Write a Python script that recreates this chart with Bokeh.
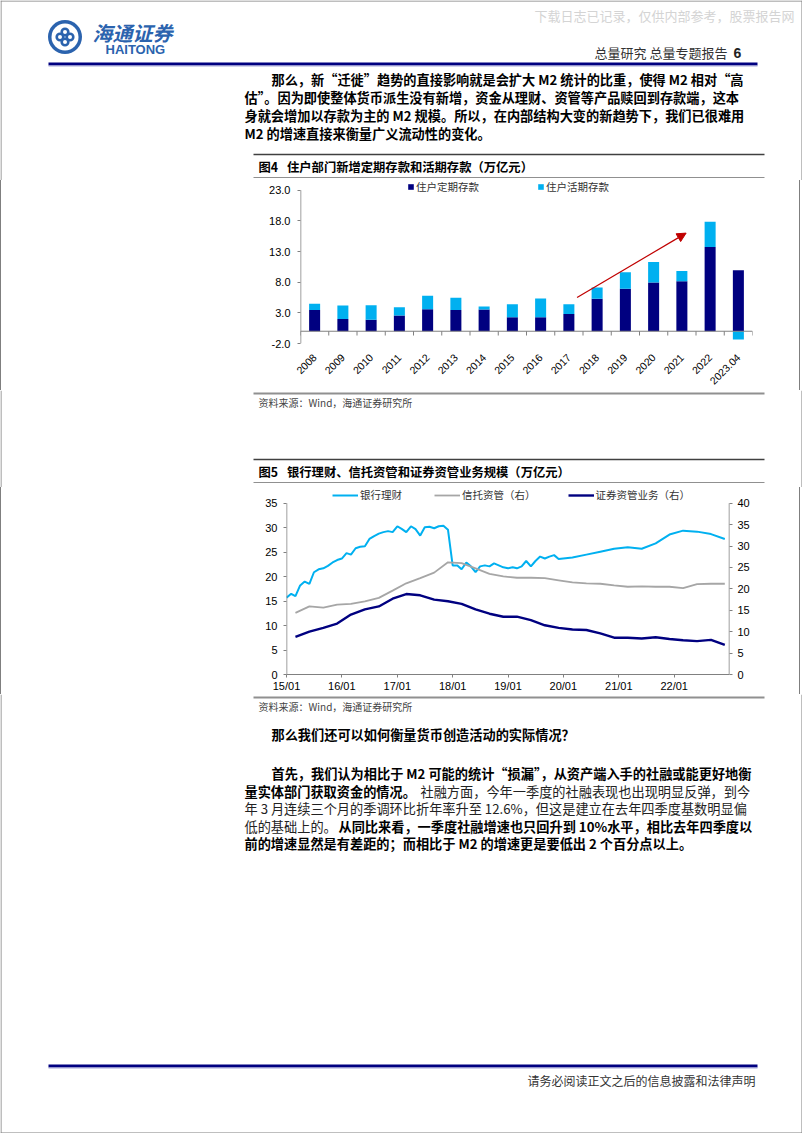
import math
import pandas as pd
from bokeh.plotting import figure
from bokeh.models import (Range1d, FactorRange, ColumnDataSource, LinearAxis, FixedTicker, Legend,
                          NumeralTickFormatter, DatetimeTickFormatter, Arrow, NormalHead, Span)
from bokeh.transform import dodge
from bokeh.core.properties import value
from bokeh.embed import file_html
from bokeh.resources import INLINE

CJK = "Noto Sans CJK SC"
LAT = "Liberation Sans"

# ---------------- Figure 4 data ----------------
years4 = ["2008", "2009", "2010", "2011", "2012", "2013", "2014", "2015",
          "2016", "2017", "2018", "2019", "2020", "2021", "2022", "2023.04"]
time_deposits = [3.45, 2.00, 1.87, 2.56, 3.60, 3.45, 3.55, 2.30,
                 2.30, 2.82, 5.30, 6.93, 7.94, 8.15, 13.73, 9.94]
demand_deposits = [1.05, 2.20, 2.38, 1.34, 2.17, 2.00, 0.48, 2.10,
                   3.05, 1.58, 1.85, 2.67, 3.33, 1.69, 4.12, -1.34]
legend4 = ["住户定期存款", "住户活期存款"]
yticks4 = [-2, 3, 8, 13, 18, 23]
title4 = "图4\u2002 住户部门新增定期存款和活期存款（万亿元）"

# ---------------- Figure 5 data ----------------
bank_dates = (list(pd.date_range("2015-01-01", "2019-12-01", freq="MS")) +
              list(pd.date_range("2020-03-01", "2022-12-01", freq="3MS")))
bank_wm = [15.7, 16.5, 16.0, 18.2, 19.0, 18.5, 20.9, 21.5, 21.7, 22.2, 22.9, 23.4,
           23.7, 24.8, 24.5, 25.8, 26.1, 26.2, 27.7, 28.3, 28.8, 29.1, 29.3, 29.1,
           30.3, 29.7, 29.1, 30.3, 29.7, 28.4, 30.1, 30.2, 29.9, 30.3, 30.4, 29.6,
           22.3, 22.3, 21.5, 22.9, 22.1, 20.9, 22.1, 22.3, 22.1, 22.7, 22.3, 21.9,
           21.7, 21.9, 21.7, 22.1, 23.2, 22.1, 23.2, 24.1, 23.7, 24.1, 24.4, 23.6,
           23.9, 24.5, 25.1, 25.7, 26.0, 25.7, 26.8, 28.6, 29.4, 29.2, 28.7, 27.7]
q_dates = list(pd.date_range("2015-03-01", "2022-12-01", freq="3MS"))
trust_am = [14.4, 15.9, 15.6, 16.3, 16.5, 17.1, 17.9, 19.6,
            21.3, 22.5, 23.8, 26.2, 26.0, 24.8, 23.5, 22.9,
            22.6, 22.6, 22.5, 22.0, 21.5, 21.3, 21.2, 20.8,
            20.5, 20.6, 20.5, 20.5, 20.2, 21.1, 21.2, 21.2]
sec_am = [8.8, 10.0, 10.9, 11.9, 14.0, 15.2, 15.9, 17.7,
          18.8, 18.5, 17.5, 17.1, 16.5, 15.2, 14.2, 13.5,
          13.5, 12.7, 11.5, 10.9, 10.5, 10.4, 9.6, 8.6,
          8.6, 8.4, 8.7, 8.3, 8.0, 7.8, 8.1, 6.9]
legend5 = ["银行理财", "信托资管（右）", "证券资管业务（右）"]
xticks5 = ["2015-01", "2016-01", "2017-01", "2018-01", "2019-01", "2020-01", "2021-01", "2022-01"]
yticks5_left = [0, 5, 10, 15, 20, 25, 30, 35]
yticks5_right = [0, 5, 10, 15, 20, 25, 30, 35, 40]
title5 = "图5\u2002 银行理财、信托资管和证券资管业务规模（万亿元）"
source_txt = "资料来源：Wind，海通证券研究所"

# ---------------- page text ----------------
para1 = ["那么，新“迁徙”趋势的直接影响就是会扩大 M2 统计的比重，使得 M2 相对“高",
         "估”。因为即使整体货币派生没有新增，资金从理财、资管等产品赎回到存款端，这本",
         "身就会增加以存款为主的 M2 规模。所以，在内部结构大变的新趋势下，我们已很难用",
         "M2 的增速直接来衡量广义流动性的变化。"]
question = "那么我们还可以如何衡量货币创造活动的实际情况？"

DARK = "#000080"
LIGHT = "#00B0F0"
GRAY = "#A6A6A6"
LOGO = "#2B63AE"
FRAME = "#7f7f7f"
AXIS = "#808080"
BODY = "13.2px"
SIDES = {"border-left": "1px solid #7f7f7f", "border-right": "1px solid #7f7f7f"}


def band(y0, y1):
    p = figure(width=802, height=y1 - y0, x_range=Range1d(0, 802), y_range=Range1d(y1, y0),
               output_backend="svg", toolbar_location=None, min_border=0,
               x_axis_location=None, y_axis_location=None)
    p.grid.visible = False
    p.outline_line_color = None
    p.segment(x0=[0.5, 801.5], y0=[y0, y0], x1=[0.5, 801.5], y1=[y1, y1], line_color=FRAME, line_width=1)
    return p


def txt(p, x, y, s, size=BODY, color="#000", style="normal", align="left", font=CJK):
    p.text(x=[x], y=[y], text=[s], text_font=value(font), text_font_size=value(size),
           text_color=color, text_font_style=style, text_align=align, text_baseline="middle")


def rule(p, x0, x1, y, color, w):
    p.segment(x0=[x0], y0=[y], x1=[x1], y1=[y], line_color=color, line_width=w)


def legend_style(lg, spacing, gw, gh):
    lg.orientation = "horizontal"
    lg.background_fill_alpha = 0
    lg.border_line_color = None
    lg.padding = 0
    lg.margin = 0
    lg.spacing = spacing
    lg.glyph_width = gw
    lg.glyph_height = gh
    lg.label_height = 12
    lg.label_standoff = 2
    lg.label_text_font = CJK
    lg.label_text_font_size = "10.5px"
    lg.label_text_color = "#333"


# ---------------- Band A (page y 0..180) ----------------
A = band(0, 180)
rule(A, 0, 802, 0.5, FRAME, 1)
txt(A, 534, 15, "下载日志已记录，仅供内部参考，股票报告网", "13px", "#d4d4d4")
A.circle(x=[64.5], y=[36.5], radius=17, fill_color=LOGO, line_color=None)
A.circle(x=[64.5], y=[36.5], radius=13.5, fill_color="white", line_color=None)
A.annulus(x=[59.5, 69.5, 64.5, 64.5], y=[36.5, 36.5, 31.5, 41.5], inner_radius=2.0,
          outer_radius=4.6, fill_color=LOGO, line_color=None)
txt(A, 92, 32, "海通证券", "20px", LOGO, "bold italic")
txt(A, 105, 49, "HAITONG", "13px", LOGO, "bold", font=LAT)
txt(A, 727, 52, "总量研究 总量专题报告", "13px", "#333", align="right")
txt(A, 733, 52, "6", "14px", "#222", "bold", font=LAT)
rule(A, 48, 757, 63.5, "#000080", 3)
rule(A, 48, 757, 65.5, "#a8a8d8", 1)
for i, (x, line) in enumerate(zip([271, 244, 244, 244], para1)):
    txt(A, x, 78.5 + i * 18, line, BODY, "#000", "bold")
rule(A, 253, 764, 154, "#404040", 1.5)
txt(A, 258, 166, title4, "12.3px", "#000", "bold")
rule(A, 253, 764, 177, "#909090", 1)

# ---------------- Figure 4 chart (page y 180..390; frame 180..348) ----------------
p4 = figure(width=800, height=210, x_range=FactorRange(*years4), y_range=Range1d(-2, 24.58),
            output_backend="svg", toolbar_location=None, styles=SIDES,
            min_border_left=299, min_border_right=49, min_border_top=0, min_border_bottom=42)
p4.outline_line_color = None
p4.grid.visible = False
light_bottom = [t if d >= 0 else 0 for t, d in zip(time_deposits, demand_deposits)]
light_top = [b + d for b, d in zip(light_bottom, demand_deposits)]
src4 = ColumnDataSource(dict(x=years4, t=time_deposits, lb=light_bottom, lt=light_top))
r_dark = p4.vbar(x="x", top="t", bottom=0, width=0.39, source=src4, fill_color=DARK, line_color=None)
r_light = p4.vbar(x="x", top="lt", bottom="lb", width=0.39, source=src4, fill_color=LIGHT, line_color=None)
p4.add_layout(Span(location=0, dimension="width", line_color=AXIS, line_width=1))
tick_src = ColumnDataSource(dict(x=years4, y0=[0] * len(years4), y1=[-0.7] * len(years4)))
p4.segment(x0=dodge("x", -0.5, range=p4.x_range), y0="y0", x1=dodge("x", -0.5, range=p4.x_range),
           y1="y1", source=tick_src, line_color=AXIS)
end_src = ColumnDataSource(dict(x=years4[-1:], y0=[0], y1=[-0.7]))
p4.segment(x0=dodge("x", 0.5, range=p4.x_range), y0="y0", x1=dodge("x", 0.5, range=p4.x_range),
           y1="y1", source=end_src, line_color=AXIS)
# y axis line only over the tick span (-2 .. 23)
yline_src = ColumnDataSource(dict(x=years4[:1], y0=[yticks4[0]], y1=[yticks4[-1]]))
p4.segment(x0=dodge("x", -0.5, range=p4.x_range), y0="y0", x1=dodge("x", -0.5, range=p4.x_range),
           y1="y1", source=yline_src, line_color=AXIS, line_width=1.5)
p4.add_layout(Arrow(end=NormalHead(size=9, fill_color="#C00000", line_color="#C00000"),
                    x_start=9.79, y_start=5.5, x_end=13.65, y_end=16.0,
                    line_color="#C00000", line_width=1.2))
p4.yaxis.ticker = FixedTicker(ticks=yticks4)
p4.yaxis.formatter = NumeralTickFormatter(format="0.0")
p4.yaxis.axis_line_color = None
p4.yaxis.major_tick_line_color = AXIS
p4.yaxis.major_tick_out = 3
p4.yaxis.major_tick_in = 0
p4.yaxis.minor_tick_line_color = None
p4.yaxis.major_label_standoff = 7
p4.yaxis.major_label_text_font = LAT
p4.yaxis.major_label_text_font_size = "11px"
p4.yaxis.major_label_text_color = "#000"
p4.xaxis.axis_line_color = None
p4.xaxis.major_tick_line_color = None
p4.xaxis.major_label_orientation = math.pi / 4
p4.xaxis.major_label_standoff = 6
p4.xaxis.major_label_text_font = LAT
p4.xaxis.major_label_text_font_size = "10.5px"
p4.xaxis.major_label_text_color = "#000"
lg4 = Legend(items=[(legend4[0], [r_dark]), (legend4[1], [r_light])], location=(107, 149))
legend_style(lg4, 58, 7, 7)
p4.add_layout(lg4)

# ---------------- Band B (page y 390..487) ----------------
B = band(390, 487)
rule(B, 253, 764, 393, "#909090", 2)
txt(B, 258, 402, source_txt, "10px", "#444")
rule(B, 253, 764, 459, "#404040", 1.5)
txt(B, 258, 471, title5, "12.3px", "#000", "bold")
rule(B, 253, 764, 482, "#909090", 1)

# ---------------- Figure 5 chart (page y 487..694; frame 487..677) ----------------
x0 = pd.Timestamp("2015-01-01")
x1 = pd.Timestamp("2023-01-01")
p5 = figure(width=800, height=207, x_axis_type="datetime", x_range=Range1d(x0, x1),
            y_range=Range1d(0, 38.22), output_backend="svg", toolbar_location=None, styles=SIDES,
            min_border_left=285, min_border_right=72, min_border_top=0, min_border_bottom=17)
p5.extra_y_ranges = {"right": Range1d(0, 43.68)}
p5.outline_line_color = None
p5.grid.visible = False
bank_src = ColumnDataSource(dict(x=bank_dates, y=bank_wm))
q_src = ColumnDataSource(dict(x=q_dates, trust=trust_am, sec=sec_am))
r_bank = p5.line(x="x", y="y", source=bank_src, line_color=LIGHT, line_width=2)
r_trust = p5.line(x="x", y="trust", source=q_src, line_color=GRAY, line_width=1.8, y_range_name="right")
r_sec = p5.line(x="x", y="sec", source=q_src, line_color=DARK, line_width=2.4, y_range_name="right")
# vertical axis lines only over the tick span
p5.segment(x0=[x0, x1], y0=[0, 0], x1=[x0, x1], y1=[yticks5_left[-1]] * 2, line_color=AXIS, line_width=1.5)
raxis = LinearAxis(y_range_name="right")
p5.add_layout(raxis, "right")
xt_ms = [pd.Timestamp(d).value // 10**6 for d in xticks5]
p5.xaxis.ticker = FixedTicker(ticks=xt_ms)
p5.xaxis.formatter = DatetimeTickFormatter(years="%y/%m", months="%y/%m", days="%y/%m")
p5.yaxis[0].ticker = FixedTicker(ticks=yticks5_left)
raxis.ticker = FixedTicker(ticks=yticks5_right)
for ax in [p5.xaxis[0], p5.yaxis[0], raxis]:
    ax.axis_line_color = AXIS
    ax.major_tick_line_color = AXIS
    ax.major_tick_in = 0
    ax.major_tick_out = 3
    ax.minor_tick_line_color = None
    ax.major_label_text_font = LAT
    ax.major_label_text_font_size = "11px"
    ax.major_label_text_color = "#000"
p5.yaxis[0].axis_line_color = None
raxis.axis_line_color = None
p5.xaxis.major_label_standoff = 2
p5.yaxis[0].major_label_standoff = 6
raxis.major_label_standoff = 5
lg5 = Legend(items=[(legend5[0], [r_bank]), (legend5[1], [r_trust]), (legend5[2], [r_sec])],
             location=(46, 172))
legend_style(lg5, 32, 26, 12)
p5.add_layout(lg5)

# ---------------- Band C (page y 694..1133) ----------------
C = band(694, 1133)
rule(C, 0, 802, 1132.5, FRAME, 1)
rule(C, 253, 764, 697, "#909090", 2)
txt(C, 258, 706, source_txt, "10px", "#444")
txt(C, 271, 734, question, BODY, "#000", "bold")
ys = [773.3, 790.8, 808.3, 825.8, 843.3]
txt(C, 271, ys[0], "首先，我们认为相比于 M2 可能的统计“损漏”，从资产端入手的社融或能更好地衡",
    BODY, "#000", "bold")
txt(C, 244, ys[1], "量实体部门获取资金的情况。", BODY, "#000", "bold")
txt(C, 420, ys[1], "社融方面，今年一季度的社融表现也出现明显反弹，到今", BODY, "#222")
txt(C, 244, ys[2], "年 3 月连续三个月的季调环比折年率升至 12.6%，但这是建立在去年四季度基数明显偏",
    BODY, "#222")
txt(C, 244, ys[3], "低的基础上的。", BODY, "#222")
txt(C, 338, ys[3], "从同比来看，一季度社融增速也只回升到 10%水平，相比去年四季度以",
    BODY, "#000", "bold")
txt(C, 244, ys[4], "前的增速显然是有差距的；而相比于 M2 的增速更是要低出 2 个百分点以上。",
    BODY, "#000", "bold")
rule(C, 48, 757, 1065.5, "#000080", 3)
rule(C, 48, 757, 1067.5, "#a8a8d8", 1)
txt(C, 755, 1080, "请务必阅读正文之后的信息披露和法律声明", "12px", "#333", align="right")

roots = [A, p4, B, p5, C]
open("out.html", "w").write(file_html(roots, INLINE))
